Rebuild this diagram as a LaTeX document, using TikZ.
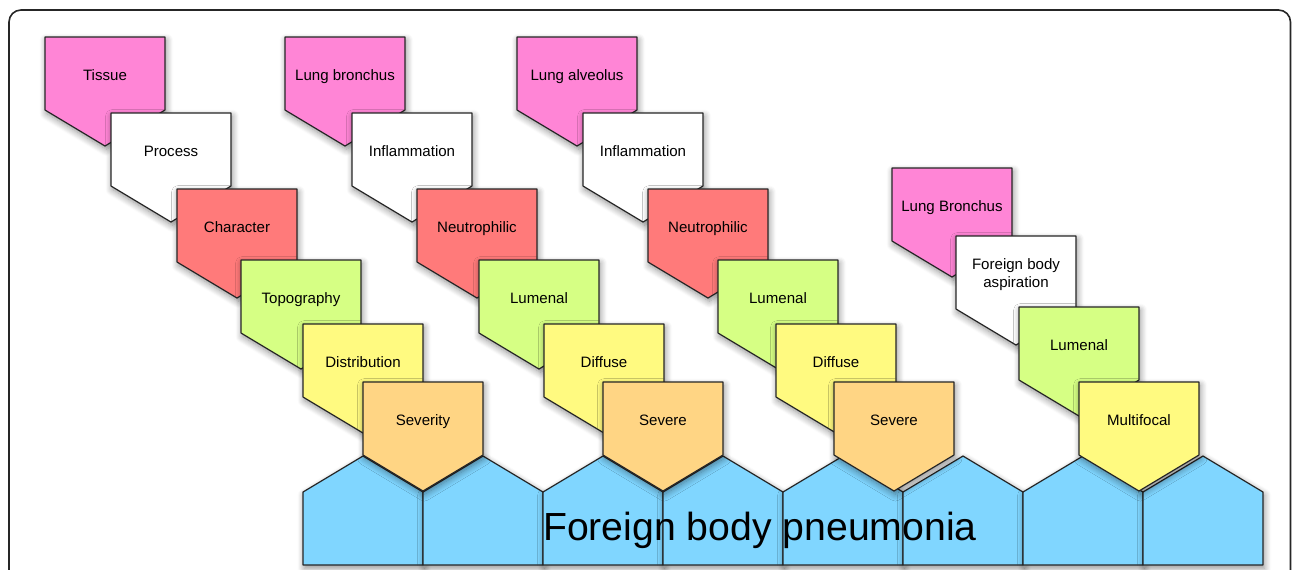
\documentclass[tikz,border=0pt]{standalone}
\usepackage{fontspec}
\setmainfont{Liberation Sans}
\usetikzlibrary{shadows.blur}

\definecolor{tissuepink}{RGB}{255,133,214}
\definecolor{charred}{RGB}{255,122,122}
\definecolor{topogreen}{RGB}{214,255,132}
\definecolor{distyellow}{RGB}{255,250,128}
\definecolor{sevorange}{RGB}{255,213,132}
\definecolor{basisblue}{RGB}{128,214,255}

% plate pointing down: [baseline offset] x, y (top left), fill, name, text
\newcommand{\downplate}[6][43]{%
	\draw[plate,fill=#4] (#2,#3) -- ++(120,0) -- ++(0,73) -- ++(-60,36) -- ++(-60,-36) -- cycle;
	\node[plate text] (#5) at ({#2+60},{#3+#1}) {#6};}

\begin{document}
\begin{tikzpicture}[x=0.75pt,y=-0.75pt,
	plate/.style={draw=black!85,line width=0.9pt,line join=round,
		blur shadow={shadow xshift=1pt,shadow yshift=-2.5pt,shadow blur radius=5pt,shadow blur steps=8,shadow opacity=45}},
	plate text/.style={anchor=base,align=center,font=\fontsize{11.3}{13.5}\selectfont},
	big text/.style={anchor=base,font=\fontsize{29.4}{34}\selectfont}]
\useasboundingbox (0,0) rectangle (1292,569);

% Frame
\draw[line width=1.2pt,black!85,rounded corners=9pt] (9,10) rectangle (1290.5,620);

%----------------------------
% Base row (pointing up)
%----------------------------
\foreach \i in {0,...,7}{
	\draw[plate,fill=basisblue] ({303+120*\i},565) -- ++(0,-73) -- ++(60,-36) -- ++(60,36) -- ++(0,73) -- cycle;
}

%----------------------------
% Column 1: the axes
%----------------------------
\downplate{45}{37}{tissuepink}{tissue}{Tissue}
\downplate{111}{113}{white}{process}{Process}
\downplate{177}{189}{charred}{character}{Character}
\downplate{241}{260}{topogreen}{topography}{Topography}
\downplate{303}{324}{distyellow}{distribution}{Distribution}
\downplate{363}{382}{sevorange}{severity}{Severity}

%----------------------------
% Column 2: bronchus
%----------------------------
\downplate{285}{37}{tissuepink}{bronchus}{Lung bronchus}
\downplate{352}{113}{white}{inflamA}{Inflammation}
\downplate{417}{189}{charred}{neutroA}{Neutrophilic}
\downplate{479}{260}{topogreen}{lumenA}{Lumenal}
\downplate{544}{324}{distyellow}{diffuseA}{Diffuse}
\downplate{603}{382}{sevorange}{severeA}{Severe}

%----------------------------
% Column 3: alveolus
%----------------------------
\downplate{517}{37}{tissuepink}{alveolus}{Lung alveolus}
\downplate{583}{113}{white}{inflamB}{Inflammation}
\downplate{648}{189}{charred}{neutroB}{Neutrophilic}
\downplate{718}{260}{topogreen}{lumenB}{Lumenal}
\downplate{776}{324}{distyellow}{diffuseB}{Diffuse}
\downplate{834}{382}{sevorange}{severeB}{Severe}

%----------------------------
% Column 4: foreign body
%----------------------------
\downplate{892}{168}{tissuepink}{bronchusB}{Lung Bronchus}
\downplate[51]{956}{236}{white}{aspiration}{Foreign body\\aspiration}
\downplate{1019}{307}{topogreen}{lumenC}{Lumenal}
\downplate{1079}{382}{distyellow}{multifocal}{Multifocal}

% Diagnosis
\node[big text] (pneumonia) at (760,540) {Foreign body pneumonia};

\end{tikzpicture}
\end{document}
